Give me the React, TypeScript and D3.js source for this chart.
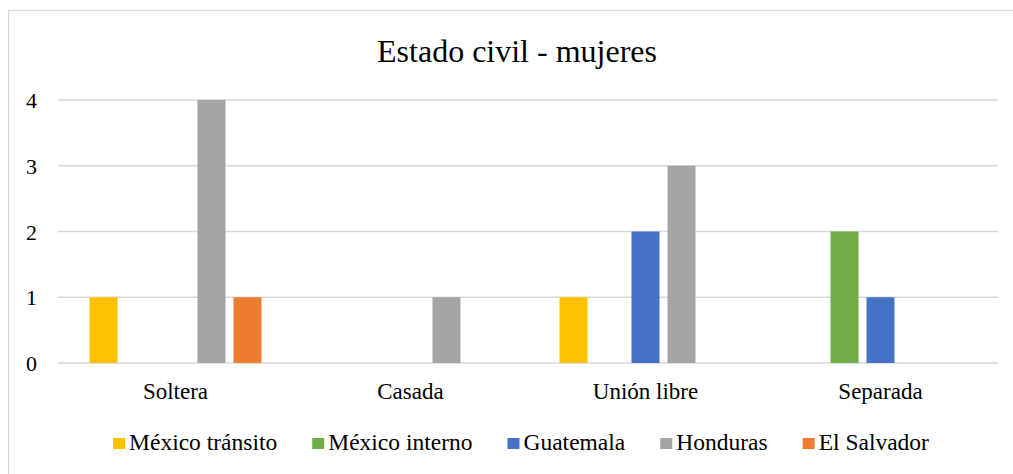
import React, { useRef, useEffect } from 'react';
import * as d3 from 'd3';

const categories = ['Soltera', 'Casada', 'Unión libre', 'Separada'];
const seriesNames = ['México tránsito', 'México interno', 'Guatemala', 'Honduras', 'El Salvador'];
const mexicoTransito = [1, 0, 1, 0];
const mexicoInterno = [0, 0, 0, 2];
const guatemala = [0, 0, 2, 1];
const honduras = [4, 1, 3, 0];
const elSalvador = [1, 0, 0, 0];
const yTicks = [0, 1, 2, 3, 4];
const colors = ['#FFC000', '#70AD47', '#4472C4', '#A5A5A5', '#ED7D31'];

const WIDTH = 1013;
const HEIGHT = 474;

const App = () => {
  const svgRef = useRef<SVGSVGElement>(null);

  useEffect(() => {
    const svg = d3.select(svgRef.current);
    svg.selectAll('*').remove();

    const font = "'Liberation Serif', 'Times New Roman', Times, serif";
    const values = [mexicoTransito, mexicoInterno, guatemala, honduras, elSalvador];

    // chart frame
    svg.append('rect')
      .attr('x', 8.5).attr('y', 10.5)
      .attr('width', 1006).attr('height', 466)
      .attr('fill', '#fff')
      .attr('stroke', '#d9d9d9')
      .attr('stroke-width', 1.2);

    // title
    svg.append('text')
      .attr('x', 517).attr('y', 62)
      .attr('text-anchor', 'middle')
      .attr('font-family', font)
      .attr('font-size', 32)
      .attr('fill', '#000')
      .text('Estado civil - mujeres');

    const x0 = d3.scaleBand().domain(categories).range([58, 998]).padding(0);
    const x1 = d3.scaleBand()
      .domain(seriesNames)
      .range([0, x0.bandwidth()])
      .paddingInner(0.222)
      .paddingOuter(0.876);
    const y = d3.scaleLinear().domain([0, 4]).range([363, 100]);

    // gridlines
    svg.append('g')
      .selectAll('line')
      .data(yTicks)
      .join('line')
      .attr('x1', 58).attr('x2', 998)
      .attr('y1', (d) => y(d)).attr('y2', (d) => y(d))
      .attr('stroke', '#d9d9d9')
      .attr('stroke-width', 1.5);

    // y tick labels
    svg.append('g')
      .selectAll('text')
      .data(yTicks)
      .join('text')
      .attr('x', 37)
      .attr('y', (d) => y(d) + 8)
      .attr('text-anchor', 'end')
      .attr('font-family', font)
      .attr('font-size', 22)
      .attr('fill', '#000')
      .text((d) => d);

    // bars
    const groups = svg.append('g')
      .selectAll('g')
      .data(categories)
      .join('g')
      .attr('transform', (d) => `translate(${x0(d)},0)`);

    groups.selectAll('rect')
      .data((_, ci) => seriesNames.map((s, si) => ({ s, si, v: values[si][ci] })).filter((d) => d.v > 0))
      .join('rect')
      .attr('x', (d) => x1(d.s)!)
      .attr('y', (d) => y(d.v))
      .attr('width', x1.bandwidth())
      .attr('height', (d) => y(0) - y(d.v))
      .attr('fill', (d) => colors[d.si]);

    // category labels
    svg.append('g')
      .selectAll('text')
      .data(categories)
      .join('text')
      .attr('x', (d) => x0(d)! + x0.bandwidth() / 2)
      .attr('y', 399)
      .attr('text-anchor', 'middle')
      .attr('font-family', font)
      .attr('font-size', 23)
      .attr('fill', '#000')
      .text((d) => d);

    // legend
    const legend = svg.append('g');
    const items = legend.selectAll('g')
      .data(seriesNames)
      .join('g');
    items.append('rect')
      .attr('y', 438)
      .attr('width', 12).attr('height', 11)
      .attr('fill', (_, i) => colors[i]);
    const labels = items.append('text')
      .attr('x', 16)
      .attr('y', 450)
      .attr('font-family', font)
      .attr('font-size', 23.5)
      .attr('fill', '#000')
      .text((d) => d);

    const widths: number[] = [];
    labels.each(function () {
      widths.push((this as SVGTextElement).getComputedTextLength());
    });
    const gap = 35;
    const itemW = widths.map((w) => 16 + w);
    const total = d3.sum(itemW) + gap * (itemW.length - 1);
    let cx = 521 - total / 2;
    items.attr('transform', (_, i) => {
      const t = `translate(${cx},0)`;
      cx += itemW[i] + gap;
      return t;
    });
  }, []);

  return (
    <svg
      ref={svgRef}
      width={WIDTH}
      height={HEIGHT}
      style={{ position: 'absolute', left: 0, top: 0, background: '#fff' }}
    />
  );
};

export default App;
